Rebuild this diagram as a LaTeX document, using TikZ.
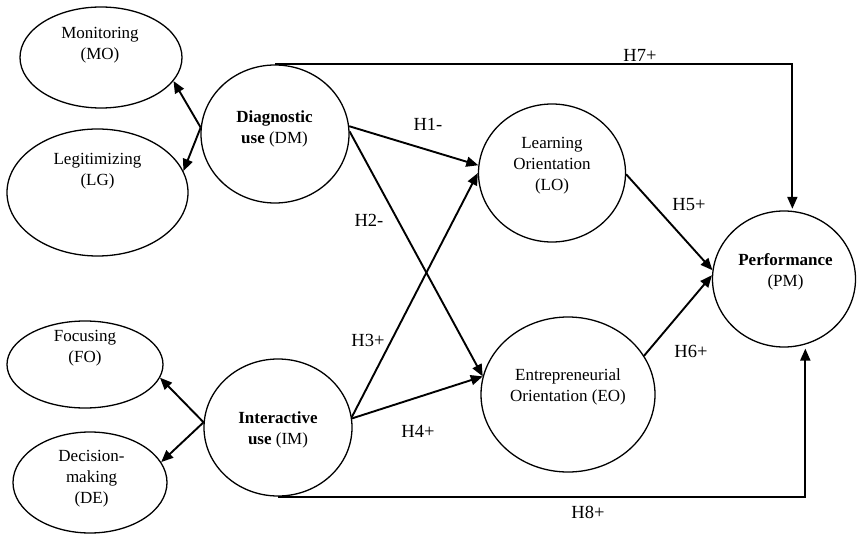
\documentclass[tikz,border=0pt]{standalone}
\usepackage{fontspec}
\setmainfont{Liberation Serif}
\usetikzlibrary{shapes.geometric,arrows.meta}
\begin{document}
\begin{tikzpicture}[x=1pt,y=-1pt,
  every node/.style={font=\fontsize{17}{21}\selectfont},
  cst/.style={draw, ellipse, line width=1.3pt, inner sep=0pt},
  txt/.style={align=center, inner sep=0pt},
  hyp/.style={font=\fontsize{18.5}{22}\selectfont, inner sep=0pt},
  arr/.style={line width=1.9pt, -{Triangle[length=12pt,width=10pt]}}
  ]
\useasboundingbox (0,0) rectangle (858,534);
% constructs
\node[cst, minimum width=162pt, minimum height=101pt] (MO) at (101,57.5) {};
\node[cst, minimum width=181pt, minimum height=127pt] (LG) at (97.5,192.5) {};
\node[cst, minimum width=148pt, minimum height=138pt] (DM) at (275,134) {};
\node[cst, minimum width=156pt, minimum height=87pt] (FO) at (85,364.5) {};
\node[cst, minimum width=154pt, minimum height=101pt] (DE) at (90,482.5) {};
\node[cst, minimum width=148pt, minimum height=137pt] (IM) at (278,427.5) {};
\node[cst, minimum width=147pt, minimum height=138pt] (LO) at (552,173) {};
\node[cst, minimum width=174pt, minimum height=155pt] (EO) at (568,394.5) {};
\node[cst, minimum width=143pt, minimum height=136pt] (PM) at (784,279) {};
% texts
\node[txt] (MOt) at (100,45.5) {Monitoring\\(MO)};
\node[txt] (LGt) at (97.5,171) {Legitimizing\\(LG)};
\node[txt] (DMt) at (274.5,128.5) {\textbf{Diagnostic}\\\textbf{use} (DM)};
\node[txt] (FOt) at (85,348.5) {Focusing\\(FO)};
\node[txt] (DEt) at (91.5,479) {Decision-\\making\\(DE)};
\node[txt] (IMt) at (278,430) {\textbf{Interactive}\\\textbf{use} (IM)};
\node[txt] (LOt) at (552,166) {Learning\\Orientation\\(LO)};
\node[txt] (EOt) at (568,386.5) {Entrepreneurial\\Orientation (EO)};
\node[txt] (PMt) at (785.5,272) {\textbf{Performance}\\(PM)};
% arrows
\draw[arr] (DM.175) -- (MO.-18);
\draw[arr] (DM.175) -- (LG.14);
\draw[arr] (IM.176) -- (FO.-10);
\draw[arr] (IM.176) -- (DE.16);
\draw[arr] (DM.6) -- (LO.174);
\draw[arr] (DM.2) -- (EO.168);
\draw[arr] (IM.8) -- (LO.180);
\draw[arr] (IM.7) -- (EO.168);
\draw[arr] (LO.-1) -- (PM.173);
\draw[arr] (EO.27) -- (PM.177);
\draw[arr, shorten >=2pt] (DM.north) -| (PM.83);
\draw[arr, shorten >=4pt] (IM.south) -| (PM.-72);
% hypothesis labels
\node[hyp] (H1) at (428,124) {H1-};
\node[hyp] (H2) at (369,220) {H2-};
\node[hyp] (H3) at (368,340) {H3+};
\node[hyp] (H4) at (418,431) {H4+};
\node[hyp] (H5) at (689,205) {H5+};
\node[hyp] (H6) at (691,351) {H6+};
\node[hyp] (H7) at (640,55) {H7+};
\node[hyp] (H8) at (588,512) {H8+};
\end{tikzpicture}
\end{document}
